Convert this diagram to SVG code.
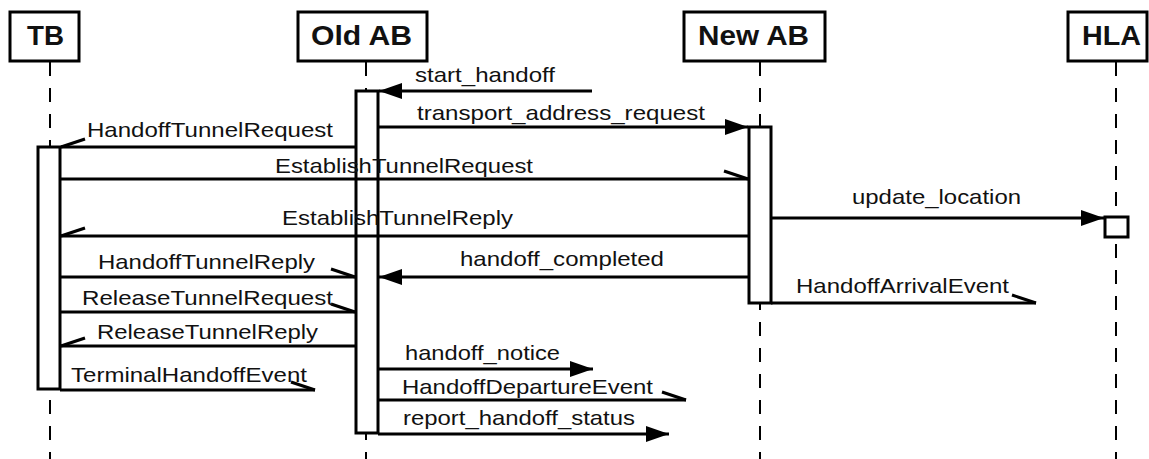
<svg xmlns="http://www.w3.org/2000/svg" width="1149" height="459" viewBox="0 0 1149 459">
  <style>
    .box { fill: #fff; stroke: #000; stroke-width: 3; }
    .head { font-family: "Liberation Sans", Arial, sans-serif; font-size: 28px; font-weight: bold; fill: #111; }
    .life { stroke: #000; stroke-width: 2; stroke-dasharray: 14 12; fill: none; }
    .act { fill: #fff; stroke: #000; stroke-width: 3; }
    .msg { stroke: #000; stroke-width: 3; fill: none; }
    .lbl { font-family: "Liberation Sans", Arial, sans-serif; font-size: 21px; fill: #111; }
  </style>
  <defs>
    <!-- filled synchronous arrowhead -->
    <marker id="solid" markerUnits="userSpaceOnUse" orient="auto" markerWidth="30" markerHeight="20" viewBox="-25 -10 30 20" refX="0" refY="0" overflow="visible">
      <path d="M0,0 L-23,-8 L-23,8 Z" fill="#000"/>
    </marker>
    <!-- half stick arrowhead, rightward message (barb above) -->
    <marker id="halfR" markerUnits="userSpaceOnUse" orient="auto" markerWidth="30" markerHeight="20" viewBox="-25 -10 30 20" refX="0" refY="0" overflow="visible">
      <path d="M-24,-8 L0,0" stroke="#000" stroke-width="3" fill="none"/>
    </marker>
    <!-- half stick arrowhead, leftward message (barb above after rotation) -->
    <marker id="halfL" markerUnits="userSpaceOnUse" orient="auto" markerWidth="30" markerHeight="20" viewBox="-25 -10 30 20" refX="0" refY="0" overflow="visible">
      <path d="M-24,8 L0,0" stroke="#000" stroke-width="3" fill="none"/>
    </marker>
  </defs>

  <rect width="1149" height="459" fill="#fff"/>

  <!-- lifelines -->
  <g id="lifelines">
    <line class="life" x1="50" y1="62" x2="50" y2="459"/>
    <line class="life" x1="366" y1="62" x2="366" y2="459"/>
    <line class="life" x1="760" y1="62" x2="760" y2="459"/>
    <line class="life" x1="1116" y1="62" x2="1116" y2="459"/>
  </g>

  <!-- participants -->
  <g id="TB">
    <rect class="box" x="10" y="12" width="69" height="49"/>
    <text class="head" x="27" y="45" textLength="37" lengthAdjust="spacingAndGlyphs">TB</text>
    <rect class="act" x="38" y="147" width="22" height="242"/>
  </g>
  <g id="OldAB">
    <rect class="box" x="298" y="12" width="129" height="49"/>
    <text class="head" x="311" y="45" textLength="101" lengthAdjust="spacingAndGlyphs">Old AB</text>
    <rect class="act" x="356" y="91" width="22" height="342"/>
  </g>
  <g id="NewAB">
    <rect class="box" x="684" y="12" width="141" height="49"/>
    <text class="head" x="698" y="45" textLength="111" lengthAdjust="spacingAndGlyphs">New AB</text>
    <rect class="act" x="749" y="127" width="22" height="176"/>
  </g>
  <g id="HLA">
    <rect class="box" x="1068" y="12" width="79" height="49"/>
    <text class="head" x="1082" y="45" textLength="59" lengthAdjust="spacingAndGlyphs">HLA</text>
    <rect class="act" x="1105" y="217" width="23" height="20"/>
  </g>

  <!-- messages -->
  <g id="connectors">
    <line class="msg" x1="592" y1="91" x2="379" y2="91" marker-end="url(#solid)"/>
    <line class="msg" x1="378" y1="127" x2="748" y2="127" marker-end="url(#solid)"/>
    <line class="msg" x1="356" y1="147" x2="61" y2="147" marker-end="url(#halfL)"/>
    <line class="msg" x1="60" y1="179" x2="748" y2="179" marker-end="url(#halfR)"/>
    <line class="msg" x1="771" y1="218" x2="1104" y2="218" marker-end="url(#solid)"/>
    <line class="msg" x1="749" y1="236" x2="61" y2="236" marker-end="url(#halfL)"/>
    <line class="msg" x1="60" y1="277" x2="355" y2="277" marker-end="url(#halfR)"/>
    <line class="msg" x1="749" y1="277" x2="379" y2="277" marker-end="url(#solid)"/>
    <line class="msg" x1="60" y1="312" x2="355" y2="312" marker-end="url(#halfR)"/>
    <line class="msg" x1="771" y1="303" x2="1036" y2="303" marker-end="url(#halfR)"/>
    <line class="msg" x1="356" y1="346" x2="61" y2="346" marker-end="url(#halfL)"/>
    <line class="msg" x1="378" y1="369" x2="593" y2="369" marker-end="url(#solid)"/>
    <line class="msg" x1="60" y1="390" x2="315" y2="390" marker-end="url(#halfR)"/>
    <line class="msg" x1="378" y1="400" x2="686" y2="400" marker-end="url(#halfR)"/>
    <line class="msg" x1="378" y1="434" x2="669" y2="434" marker-end="url(#solid)"/>
  </g>

  <!-- message labels -->
  <g id="labels">
    <text class="lbl" x="415" y="82" textLength="140" lengthAdjust="spacingAndGlyphs">start_handoff</text>
    <text class="lbl" x="417" y="120" textLength="288" lengthAdjust="spacingAndGlyphs">transport_address_request</text>
    <text class="lbl" x="87" y="137" textLength="246" lengthAdjust="spacingAndGlyphs">HandoffTunnelRequest</text>
    <text class="lbl" x="275" y="173" textLength="258" lengthAdjust="spacingAndGlyphs">EstablishTunnelRequest</text>
    <text class="lbl" x="852" y="204" textLength="169" lengthAdjust="spacingAndGlyphs">update_location</text>
    <text class="lbl" x="282" y="225" textLength="231" lengthAdjust="spacingAndGlyphs">EstablishTunnelReply</text>
    <text class="lbl" x="98" y="269" textLength="217" lengthAdjust="spacingAndGlyphs">HandoffTunnelReply</text>
    <text class="lbl" x="460" y="266" textLength="204" lengthAdjust="spacingAndGlyphs">handoff_completed</text>
    <text class="lbl" x="82" y="305" textLength="251" lengthAdjust="spacingAndGlyphs">ReleaseTunnelRequest</text>
    <text class="lbl" x="796" y="293" textLength="213" lengthAdjust="spacingAndGlyphs">HandoffArrivalEvent</text>
    <text class="lbl" x="97" y="339" textLength="221" lengthAdjust="spacingAndGlyphs">ReleaseTunnelReply</text>
    <text class="lbl" x="71" y="382" textLength="236" lengthAdjust="spacingAndGlyphs">TerminalHandoffEvent</text>
    <text class="lbl" x="405" y="360" textLength="155" lengthAdjust="spacingAndGlyphs">handoff_notice</text>
    <text class="lbl" x="402" y="394" textLength="251" lengthAdjust="spacingAndGlyphs">HandoffDepartureEvent</text>
    <text class="lbl" x="403" y="425" textLength="232" lengthAdjust="spacingAndGlyphs">report_handoff_status</text>
  </g>
</svg>
